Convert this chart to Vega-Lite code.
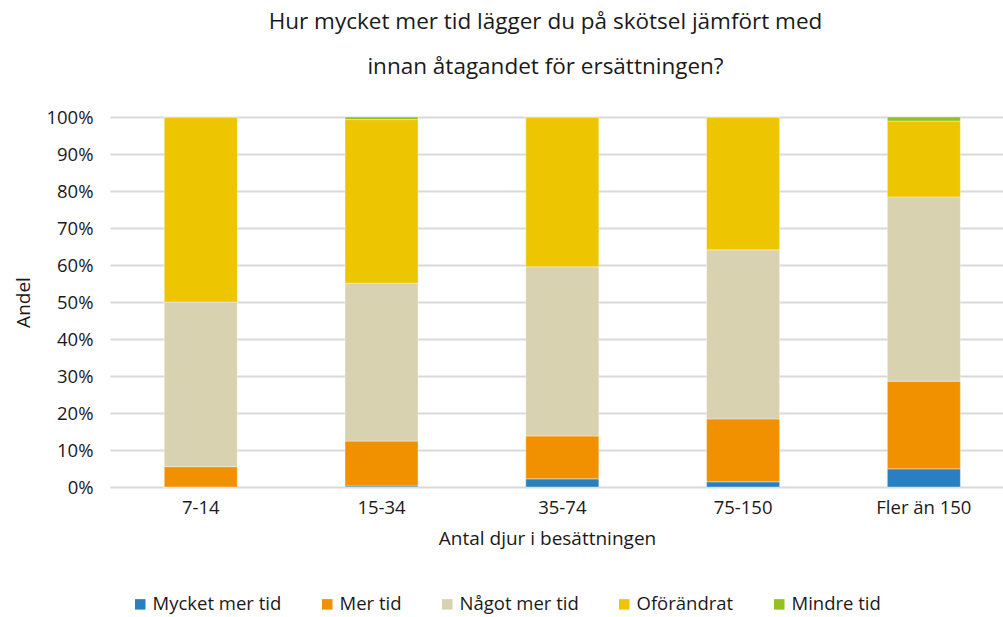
{
  "$schema": "https://vega.github.io/schema/vega-lite/v6.json",
  "autosize": {"type": "none"},
  "padding": {"left": 110, "top": 117, "right": 0, "bottom": 130},
  "width": 893,
  "height": 370,
  "background": "white",
  "title": {
    "text": ["Hur mycket mer tid lägger du på skötsel jämfört med", "innan åtagandet för ersättningen?"],
    "font": "Open Sans",
    "fontSize": 22.5,
    "fontWeight": "normal",
    "color": "#1a1a1a",
    "lineHeight": 45,
    "anchor": "middle",
    "dx": -11,
    "offset": 30
  },
  "data": {
    "values": [
      {"grupp": "7-14", "svar": "Mycket mer tid", "ord": 1, "andel": 0},
      {"grupp": "7-14", "svar": "Mer tid", "ord": 2, "andel": 5.5},
      {"grupp": "7-14", "svar": "Något mer tid", "ord": 3, "andel": 44.5},
      {"grupp": "7-14", "svar": "Oförändrat", "ord": 4, "andel": 50},
      {"grupp": "7-14", "svar": "Mindre tid", "ord": 5, "andel": 0},
      {"grupp": "15-34", "svar": "Mycket mer tid", "ord": 1, "andel": 0.3},
      {"grupp": "15-34", "svar": "Mer tid", "ord": 2, "andel": 12.1},
      {"grupp": "15-34", "svar": "Något mer tid", "ord": 3, "andel": 42.7},
      {"grupp": "15-34", "svar": "Oförändrat", "ord": 4, "andel": 44.2},
      {"grupp": "15-34", "svar": "Mindre tid", "ord": 5, "andel": 0.7},
      {"grupp": "35-74", "svar": "Mycket mer tid", "ord": 1, "andel": 2.2},
      {"grupp": "35-74", "svar": "Mer tid", "ord": 2, "andel": 11.6},
      {"grupp": "35-74", "svar": "Något mer tid", "ord": 3, "andel": 45.7},
      {"grupp": "35-74", "svar": "Oförändrat", "ord": 4, "andel": 40.5},
      {"grupp": "35-74", "svar": "Mindre tid", "ord": 5, "andel": 0},
      {"grupp": "75-150", "svar": "Mycket mer tid", "ord": 1, "andel": 1.4},
      {"grupp": "75-150", "svar": "Mer tid", "ord": 2, "andel": 17.0},
      {"grupp": "75-150", "svar": "Något mer tid", "ord": 3, "andel": 45.7},
      {"grupp": "75-150", "svar": "Oförändrat", "ord": 4, "andel": 35.9},
      {"grupp": "75-150", "svar": "Mindre tid", "ord": 5, "andel": 0},
      {"grupp": "Fler än 150", "svar": "Mycket mer tid", "ord": 1, "andel": 4.9},
      {"grupp": "Fler än 150", "svar": "Mer tid", "ord": 2, "andel": 23.7},
      {"grupp": "Fler än 150", "svar": "Något mer tid", "ord": 3, "andel": 49.8},
      {"grupp": "Fler än 150", "svar": "Oförändrat", "ord": 4, "andel": 20.5},
      {"grupp": "Fler än 150", "svar": "Mindre tid", "ord": 5, "andel": 1.1}
    ]
  },
  "mark": {"type": "bar", "stroke": "#ffffff", "strokeWidth": 0.6, "strokeOpacity": 0.6},
  "encoding": {
    "x": {
      "field": "grupp",
      "type": "nominal",
      "sort": ["7-14", "15-34", "35-74", "75-150", "Fler än 150"],
      "scale": {"paddingInner": 0.596, "paddingOuter": 0.268, "align": 0.56},
      "axis": {
        "title": "Antal djur i besättningen",
        "titleFont": "Open Sans",
        "titleFontSize": 19,
        "titleFontWeight": "normal",
        "titleColor": "#1a1a1a",
        "titleX": 437,
        "titlePadding": 13,
        "labelFont": "Open Sans",
        "labelFontSize": 18.5,
        "labelColor": "#1a1a1a",
        "labelAngle": 0,
        "labelPadding": 11,
        "ticks": false,
        "domain": false,
        "grid": false
      }
    },
    "y": {
      "field": "andel",
      "type": "quantitative",
      "stack": "zero",
      "scale": {"domain": [0, 100], "nice": false},
      "axis": {
        "title": "Andel",
        "titleFont": "Open Sans",
        "titleFontSize": 19,
        "titleFontWeight": "normal",
        "titleColor": "#1a1a1a",
        "titlePadding": 12,
        "values": [0, 10, 20, 30, 40, 50, 60, 70, 80, 90, 100],
        "labelExpr": "datum.value + '%'",
        "labelFont": "Open Sans",
        "labelFontSize": 18.5,
        "labelColor": "#1a1a1a",
        "labelPadding": 17,
        "ticks": false,
        "domain": false,
        "grid": true,
        "gridColor": "#d9d9d9",
        "gridWidth": 2
      }
    },
    "color": {
      "field": "svar",
      "type": "nominal",
      "sort": ["Mycket mer tid", "Mer tid", "Något mer tid", "Oförändrat", "Mindre tid"],
      "scale": {
        "domain": ["Mycket mer tid", "Mer tid", "Något mer tid", "Oförändrat", "Mindre tid"],
        "range": ["#2a7fc1", "#f29100", "#d8d2b0", "#edc500", "#95c11f"]
      },
      "legend": {
        "title": null,
        "orient": "none",
        "direction": "horizontal",
        "legendX": 21,
        "legendY": 478,
        "symbolType": "square",
        "symbolSize": 110,
        "symbolStrokeWidth": 0,
        "labelFont": "Open Sans",
        "labelFontSize": 18.5,
        "labelColor": "#1a1a1a",
        "columnPadding": 36,
        "labelOffset": 3
      }
    },
    "order": {"field": "ord", "type": "quantitative"}
  },
  "config": {"view": {"stroke": null}}
}
